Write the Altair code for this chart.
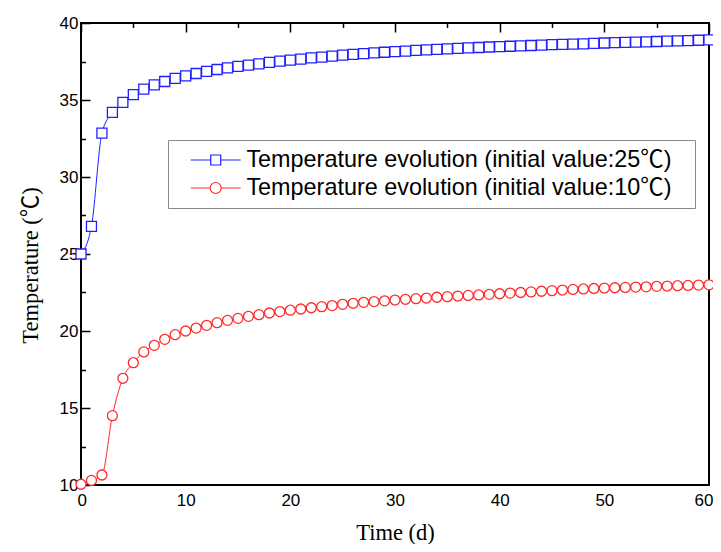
import altair as alt
import pandas as pd

# ---------------- data ----------------
series_names = [
    "Temperature evolution (initial value:25℃)",
    "Temperature evolution (initial value:10℃)",
]
days = list(range(61))

temp_init25 = [
    25.0, 26.8, 32.85, 34.2, 34.85, 35.35, 35.7, 35.98, 36.2, 36.4,
    36.57, 36.72, 36.86, 36.98, 37.09, 37.18, 37.26, 37.35, 37.44, 37.52,
    37.59, 37.66, 37.73, 37.79, 37.85, 37.91, 37.96, 38.01, 38.06, 38.1,
    38.14, 38.18, 38.22, 38.25, 38.29, 38.32, 38.35, 38.38, 38.41, 38.44,
    38.46, 38.49, 38.51, 38.54, 38.56, 38.59, 38.61, 38.63, 38.65, 38.68,
    38.7, 38.72, 38.74, 38.76, 38.78, 38.8, 38.82, 38.84, 38.86, 38.88,
    38.9,
]
temp_init10 = [
    10.05, 10.3, 10.65, 14.5, 16.93, 17.94, 18.64, 19.07, 19.46, 19.76,
    20.0, 20.19, 20.37, 20.54, 20.69, 20.82, 20.95, 21.06, 21.17, 21.26,
    21.35, 21.43, 21.51, 21.58, 21.65, 21.73, 21.8, 21.86, 21.91, 21.96,
    22.01, 22.06, 22.1, 22.14, 22.19, 22.23, 22.27, 22.31, 22.34, 22.38,
    22.42, 22.46, 22.5, 22.54, 22.58, 22.62, 22.66, 22.7, 22.73, 22.76,
    22.79, 22.81, 22.83, 22.85, 22.87, 22.9, 22.92, 22.94, 22.96, 22.98,
    23.0,
]

# tick positions (major ones labelled, minor ones between them)
x_ticks = [0, 5, 10, 15, 20, 25, 30, 35, 40, 45, 50, 55, 60]
y_ticks = [10, 12.5, 15, 17.5, 20, 22.5, 25, 27.5, 30, 32.5, 35, 37.5, 40]

colors = ["#2020ff", "#ff2a2a"]
shapes = ["square", "circle"]

# ---------------- table ----------------
df = pd.DataFrame({
    "day": days + days,
    "temp": temp_init25 + temp_init10,
    "series": [series_names[0]] * len(days) + [series_names[1]] * len(days),
})

W, H = 628, 462

xscale = alt.Scale(domain=[0, 60], nice=False, zero=False)
yscale = alt.Scale(domain=[10, 40], nice=False, zero=False)

# inward ticks: grid lines cut to a short dash starting at the axis
xaxis = alt.Axis(
    values=x_ticks, labelExpr="datum.value % 10 == 0 ? datum.label : ''",
    title="Time (d)", ticks=False, tickSize=0, domain=False,
    grid=True, gridColor="black", gridOpacity=1, gridWidth=1.5,
    gridDash={"condition": {"test": "datum.value % 10 == 0", "value": [9, 2000]},
              "value": [4.5, 2000]},
    labelFlush=True, labelFlushOffset=4,
    labelFont="Liberation Sans", labelFontSize=17, labelColor="black", labelPadding=7,
    titleFont="Liberation Serif", titleFontSize=22.5, titleFontWeight="normal", titleColor="black",
    titleX=W / 2, titleY=54, titleBaseline="alphabetic", titleAlign="center",
)
yaxis = alt.Axis(
    values=y_ticks, labelExpr="datum.value % 5 == 0 ? datum.label : ''",
    title="Temperature (℃)", ticks=False, tickSize=0, domain=False,
    grid=True, gridColor="black", gridOpacity=1, gridWidth=1.5,
    gridDash={"condition": {"test": "datum.value % 5 == 0", "value": [9, 2000]},
              "value": [4.5, 2000]},
    labelFlush=False,
    labelFont="Liberation Sans", labelFontSize=17, labelColor="black", labelPadding=3,
    titleFont="Liberation Serif, Noto Sans CJK SC", titleFontSize=22.5, titleFontWeight="normal",
    titleColor="black",
    titleX=-44, titleY=242, titleAngle=270, titleBaseline="alphabetic", titleAlign="center",
)

X = alt.X("day:Q", scale=xscale, axis=xaxis)
Y = alt.Y("temp:Q", scale=yscale, axis=yaxis)

color_scale = alt.Scale(domain=series_names, range=colors)

# legend symbols: a line with the marker in its middle
sq_path = "M-2.5,0H-0.5M0.5,0H2.5M-0.5,-0.5H0.5V0.5H-0.5Z"
ci_path = ("M-2.5,0H-0.55M0.55,0H2.5M-0.55,0A0.55,0.55,0,1,0,0.55,0"
           "A0.55,0.55,0,1,0,-0.55,0Z")

legend = alt.Legend(
    title=".", titleOrient="right", titlePadding=16, titleFontSize=1, titleOpacity=0,
    orient="none", legendX=87, legendY=117, padding=6,
    strokeColor="#8a8a8a", fillColor="white",
    symbolSize=400, symbolOffset=30, symbolStrokeWidth=1.2, symbolFillColor="white",
    symbolOpacity=1,
    labelOffset=19, labelFont="Liberation Sans, Noto Sans CJK SC", labelFontSize=23.4,
    labelColor="black", labelLimit=1000, clipHeight=28, rowPadding=0,
)


def line_layer(i):
    return alt.Chart(df).transform_filter(
        alt.datum.series == series_names[i]
    ).mark_line(strokeWidth=1, interpolate="monotone", color=colors[i]).encode(x=X, y=Y)


def marker_layer(i):
    return alt.Chart(df).transform_filter(
        alt.datum.series == series_names[i]
    ).mark_point(shape=shapes[i], filled=False, fill="white", fillOpacity=1, size=100,
                 strokeWidth=1.3, opacity=1, color=colors[i]).encode(x=X, y=Y)


legend_layer = alt.Chart(df).mark_point(opacity=0, size=1, filled=False, fill="white").encode(
    x=X, y=Y,
    color=alt.Color("series:N", scale=color_scale, legend=legend),
    shape=alt.Shape("series:N", scale=alt.Scale(domain=series_names, range=[sq_path, ci_path]),
                    legend=legend),
)

chart = alt.layer(
    line_layer(0), line_layer(1), marker_layer(0), marker_layer(1), legend_layer,
).properties(
    width=W, height=H,
    autosize="none",
    background="white",
    padding={"left": 73, "top": 15, "right": 4, "bottom": 59},
).configure_view(
    stroke="black", strokeWidth=2,
)

chart.save("out.html", embed_options={"renderer": "svg", "actions": False})
